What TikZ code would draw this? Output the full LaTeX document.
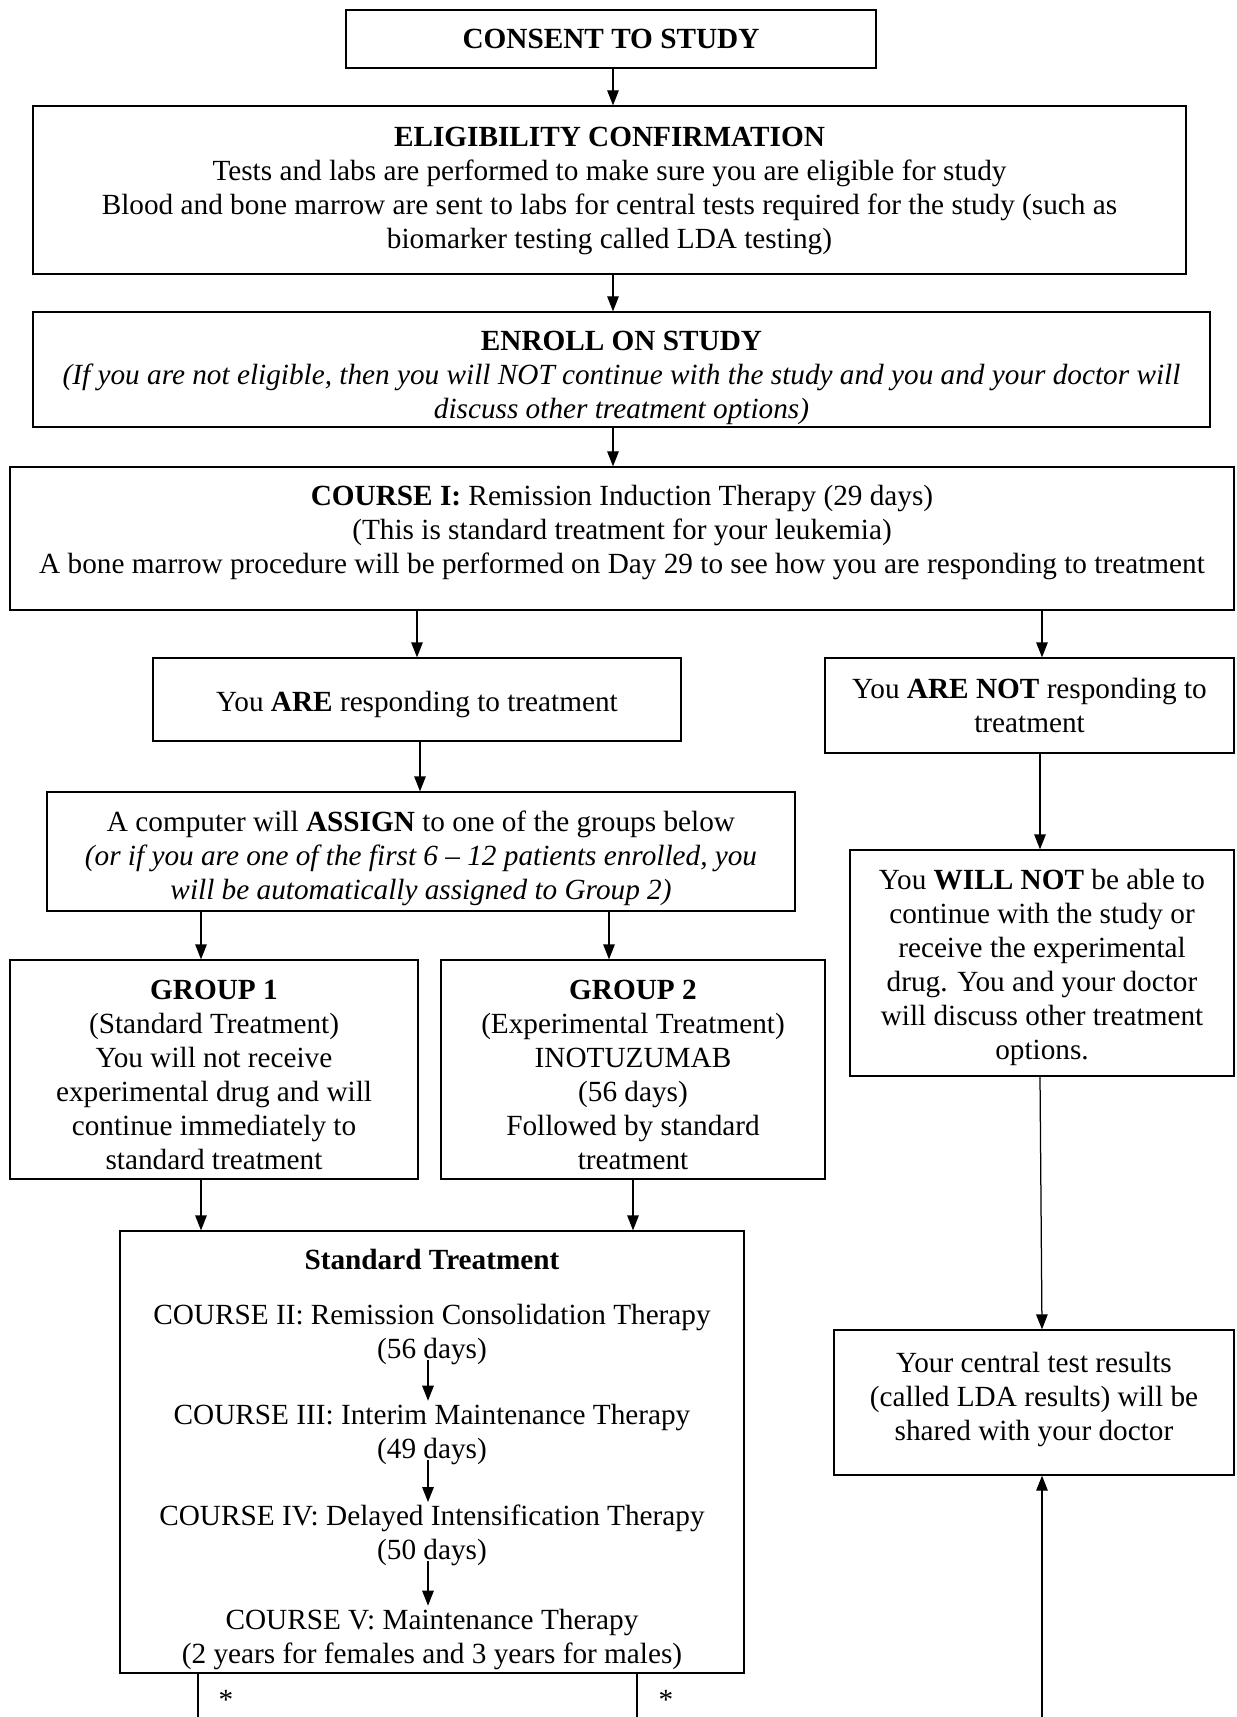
\documentclass[tikz,border=0pt]{standalone}
\usepackage{fontspec}
\setmainfont{Liberation Serif}
\usepackage{tikz}
\usetikzlibrary{arrows.meta}
\tikzstyle{box} = [rectangle, draw = black, line width = 0.5pt, inner sep = 0pt]
\tikzstyle{txt} = [inner sep = 1pt, align = center, font = \fontsize{11.7}{13.6}\selectfont]
\tikzstyle{flow} = [-{Triangle[length = 6pt, width = 4.6pt]}, line width = 0.5pt]

\begin{document}
\begin{tikzpicture}[x = 0.4pt, y = -0.4pt]
            \useasboundingbox (0, 0) rectangle (1236, 1717);
            % boxes
            \node (consent) at (611, 39) [box, minimum width = 212pt, minimum height = 23.2pt] {};
            \node (elig) at (609.5, 190) [box, minimum width = 461.2pt, minimum height = 67.2pt] {};
            \node (enroll) at (621.5, 369.5) [box, minimum width = 470.8pt, minimum height = 46pt] {};
            \node (course1) at (622, 538.5) [box, minimum width = 489.6pt, minimum height = 57.2pt] {};
            \node (resp) at (417, 699.5) [box, minimum width = 211.2pt, minimum height = 33.2pt] {};
            \node (noresp) at (1029.5, 705.5) [box, minimum width = 163.6pt, minimum height = 38pt] {};
            \node (assign) at (421, 851.5) [box, minimum width = 299.2pt, minimum height = 47.6pt] {};
            \node (willnot) at (1042, 963) [box, minimum width = 153.6pt, minimum height = 90.4pt] {};
            \node (group1) at (214, 1069.5) [box, minimum width = 163.2pt, minimum height = 87.6pt] {};
            \node (group2) at (633, 1069.5) [box, minimum width = 153.6pt, minimum height = 87.6pt] {};
            \node (std) at (432, 1452) [box, minimum width = 249.6pt, minimum height = 176.8pt] {};
            \node (lda) at (1034, 1402.5) [box, minimum width = 160pt, minimum height = 58pt] {};
            % texts
            \node (consenttxt) at (consent.center) [txt] {\textbf{CONSENT TO STUDY}};
            \node (eligtxt) at ([yshift = -0.4pt]elig.center) [txt] {\textbf{ELIGIBILITY CONFIRMATION}\\ Tests and labs are performed to make sure you are eligible for study\\ Blood and bone marrow are sent to labs for central tests required for the study (such as\\ biomarker testing called LDA testing)};
            \node (enrolltxt) at ([yshift = -3.5pt]enroll.center) [txt] {\textbf{ENROLL ON STUDY}\\ \textit{(If you are not eligible, then you will NOT continue with the study and you and your doctor will}\\ \textit{discuss other treatment options)}};
            \node (course1txt) at ([yshift = 2.2pt]course1.center) [txt] {\textbf{COURSE I:} Remission Induction Therapy (29 days)\\ (This is standard treatment for your leukemia)\\ A bone marrow procedure will be performed on Day 29 to see how you are responding to treatment};
            \node (resptxt) at ([yshift = -2.2pt]resp.center) [txt] {You \textbf{ARE} responding to treatment};
            \node (noresptxt) at (noresp.center) [txt] {You \textbf{ARE NOT} responding to\\ treatment};
            \node (assigntxt) at ([yshift = -2.6pt]assign.center) [txt] {A computer will \textbf{ASSIGN} to one of the groups below\\ \textit{(or if you are one of the first 6 -- 12 patients enrolled, you}\\ \textit{will be automatically assigned to Group 2)}};
            \node (willnottxt) at ([yshift = -1.8pt]willnot.center) [txt] {You \textbf{WILL NOT} be able to\\ continue with the study or\\ receive the experimental\\ drug. You and your doctor\\ will discuss other treatment\\ options.};
            \node (group1txt) at ([yshift = -2.2pt]group1.center) [txt] {\textbf{GROUP 1}\\ (Standard Treatment)\\ You will not receive\\ experimental drug and will\\ continue immediately to\\ standard treatment};
            \node (group2txt) at ([yshift = -2.2pt]group2.center) [txt] {\textbf{GROUP 2}\\ (Experimental Treatment)\\ INOTUZUMAB\\ (56 days)\\ Followed by standard\\ treatment};
            \node (ldatxt) at ([yshift = 1.3pt]lda.center) [txt] {Your central test results\\ (called LDA results) will be\\ shared with your doctor};
            % standard treatment block
            \node (stdtitle) at (432, 1259) [txt] {\textbf{Standard Treatment}};
            \node (course2) at (432, 1334) [txt] {COURSE II: Remission Consolidation Therapy\\ (56 days)};
            \node (course3) at (432, 1434) [txt] {COURSE III: Interim Maintenance Therapy\\ (49 days)};
            \node (course4) at (432, 1535.5) [txt] {COURSE IV: Delayed Intensification Therapy\\ (50 days)};
            \node (course5) at (432, 1639) [txt] {COURSE V: Maintenance Therapy\\ (2 years for females and 3 years for males)};
            \coordinate (out1) at (198, 1717);
            \coordinate (out2) at (637, 1717);
            \coordinate (back) at (1042, 1717);
            \node (star1) at (226, 1700) [txt] {*};
            \node (star2) at (666, 1700) [txt] {*};
            % connectors
            \draw [flow] ([xshift = 0.8pt]consent.south) -- ([xshift = 0.8pt]consent.south |- elig.north);
            \draw [flow] ([xshift = 1.4pt]elig.south) -- ([xshift = 1.4pt]elig.south |- enroll.north);
            \draw [flow] ([xshift = -3.4pt]enroll.south) -- ([xshift = -3.4pt]enroll.south |- course1.north);
            \draw [flow] (resp.north |- course1.south) -- (resp.north);
            \draw [flow] (willnot.north |- course1.south) -- (willnot.north |- noresp.north);
            \draw [flow] ([xshift = 1.2pt]resp.south) -- ([xshift = 1.2pt]resp.south |- assign.north);
            \draw [flow] ([xshift = -0.8pt]willnot.north |- noresp.south) -- ([xshift = -0.8pt]willnot.north);
            \draw [flow] ([xshift = -5.2pt]group1.north |- assign.south) -- ([xshift = -5.2pt]group1.north);
            \draw [flow] ([xshift = -9.6pt]group2.north |- assign.south) -- ([xshift = -9.6pt]group2.north);
            \draw [flow] ([xshift = -5.2pt]group1.south) -- ([xshift = -5.2pt]group1.south |- std.north);
            \draw [flow] (group2.south) -- (group2.south |- std.north);
            \draw [flow] ([xshift = -0.8pt]willnot.south) -- ([xshift = 3.2pt]lda.north);
            \draw [flow] ([xshift = -1.6pt, yshift = 3pt]course2.south) -- ([xshift = -1.6pt]course3.north);
            \draw [flow] ([xshift = -1.6pt, yshift = 3pt]course3.south) -- ([xshift = -1.6pt]course4.north);
            \draw [flow] ([xshift = -1.6pt, yshift = 3pt]course4.south) -- ([xshift = -1.6pt]course5.north);
            \draw [line width = 0.5pt] (out1 |- std.south) -- (out1);
            \draw [line width = 0.5pt] (out2 |- std.south) -- (out2);
            \draw [flow] (back) -- (back |- lda.south);
        \end{tikzpicture}
\end{document}
